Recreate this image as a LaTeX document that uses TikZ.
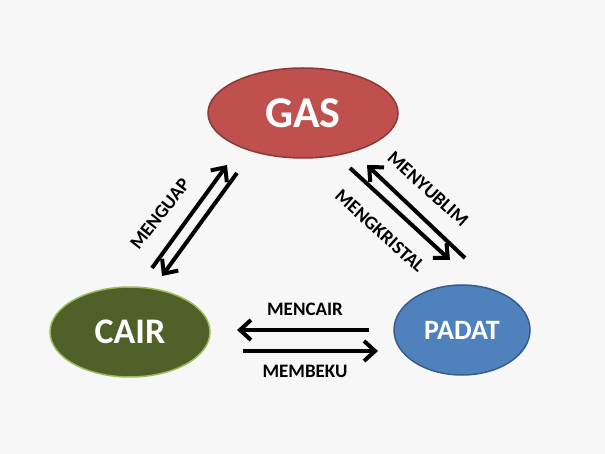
\documentclass[tikz,border=0pt]{standalone}
\usepackage{fontspec}
\setmainfont{Carlito}
\usetikzlibrary{shapes.geometric,arrows.meta}
\begin{document}
\begin{tikzpicture}[x=1pt,y=-1pt,
  st/.style={ellipse,draw,line width=1.5pt,minimum width=#1,text=white},
  ar/.style={line width=4pt,-{Straight Barb[length=11pt,width=20pt,line width=4pt]}},
  lb/.style={font=\fontsize{19}{21}\selectfont\bfseries}]
\fill[gray!6] (0,0) rectangle (605,454);
\useasboundingbox (0,0) rectangle (605,454);
\node[st=190pt,minimum height=90pt,font=\fontsize{44}{46}\selectfont\bfseries,fill={rgb,255:red,192;green,80;blue,77},draw={rgb,255:red,140;green,56;blue,54}] (gas) at (303,113) {GAS};
\node[st=160pt,minimum height=90pt,font=\fontsize{36}{40}\selectfont\bfseries,fill={rgb,255:red,79;green,97;blue,40},draw={rgb,255:red,155;green,187;blue,89}] (cair) at (130,332) {CAIR};
\node[st=136pt,minimum height=90pt,font=\fontsize{28}{32}\selectfont\bfseries,fill={rgb,255:red,79;green,129;blue,189},draw={rgb,255:red,56;green,93;blue,138}] (padat) at (462,330) {PADAT};
\coordinate (a1) at (152,268); \coordinate (a2) at (227,165);
\coordinate (b1) at (237,173); \coordinate (b2) at (162,276);
\coordinate (c1) at (465,258); \coordinate (c2) at (367,165);
\coordinate (d1) at (350,168); \coordinate (d2) at (450,260);
\coordinate (e1) at (369,330); \coordinate (e2) at (237,330);
\coordinate (f1) at (243,351); \coordinate (f2) at (378,351);
\draw[ar] (a1) -- (a2);
\draw[ar] (b1) -- (b2);
\draw[ar] (c1) -- (c2);
\draw[ar] (d1) -- (d2);
\draw[ar] (e1) -- (e2);
\draw[ar] (f1) -- (f2);
\node[lb,rotate=52] (l1) at (160,214) {MENGUAP};
\node[lb,rotate=-42] (l2) at (428,189) {MENYUBLIM};
\node[lb,rotate=-42] (l3) at (380,231) {MENGKRISTAL};
\node[lb] (l4) at (305,309) {MENCAIR};
\node[lb] (l5) at (305,371) {MEMBEKU};
\end{tikzpicture}
\end{document}
